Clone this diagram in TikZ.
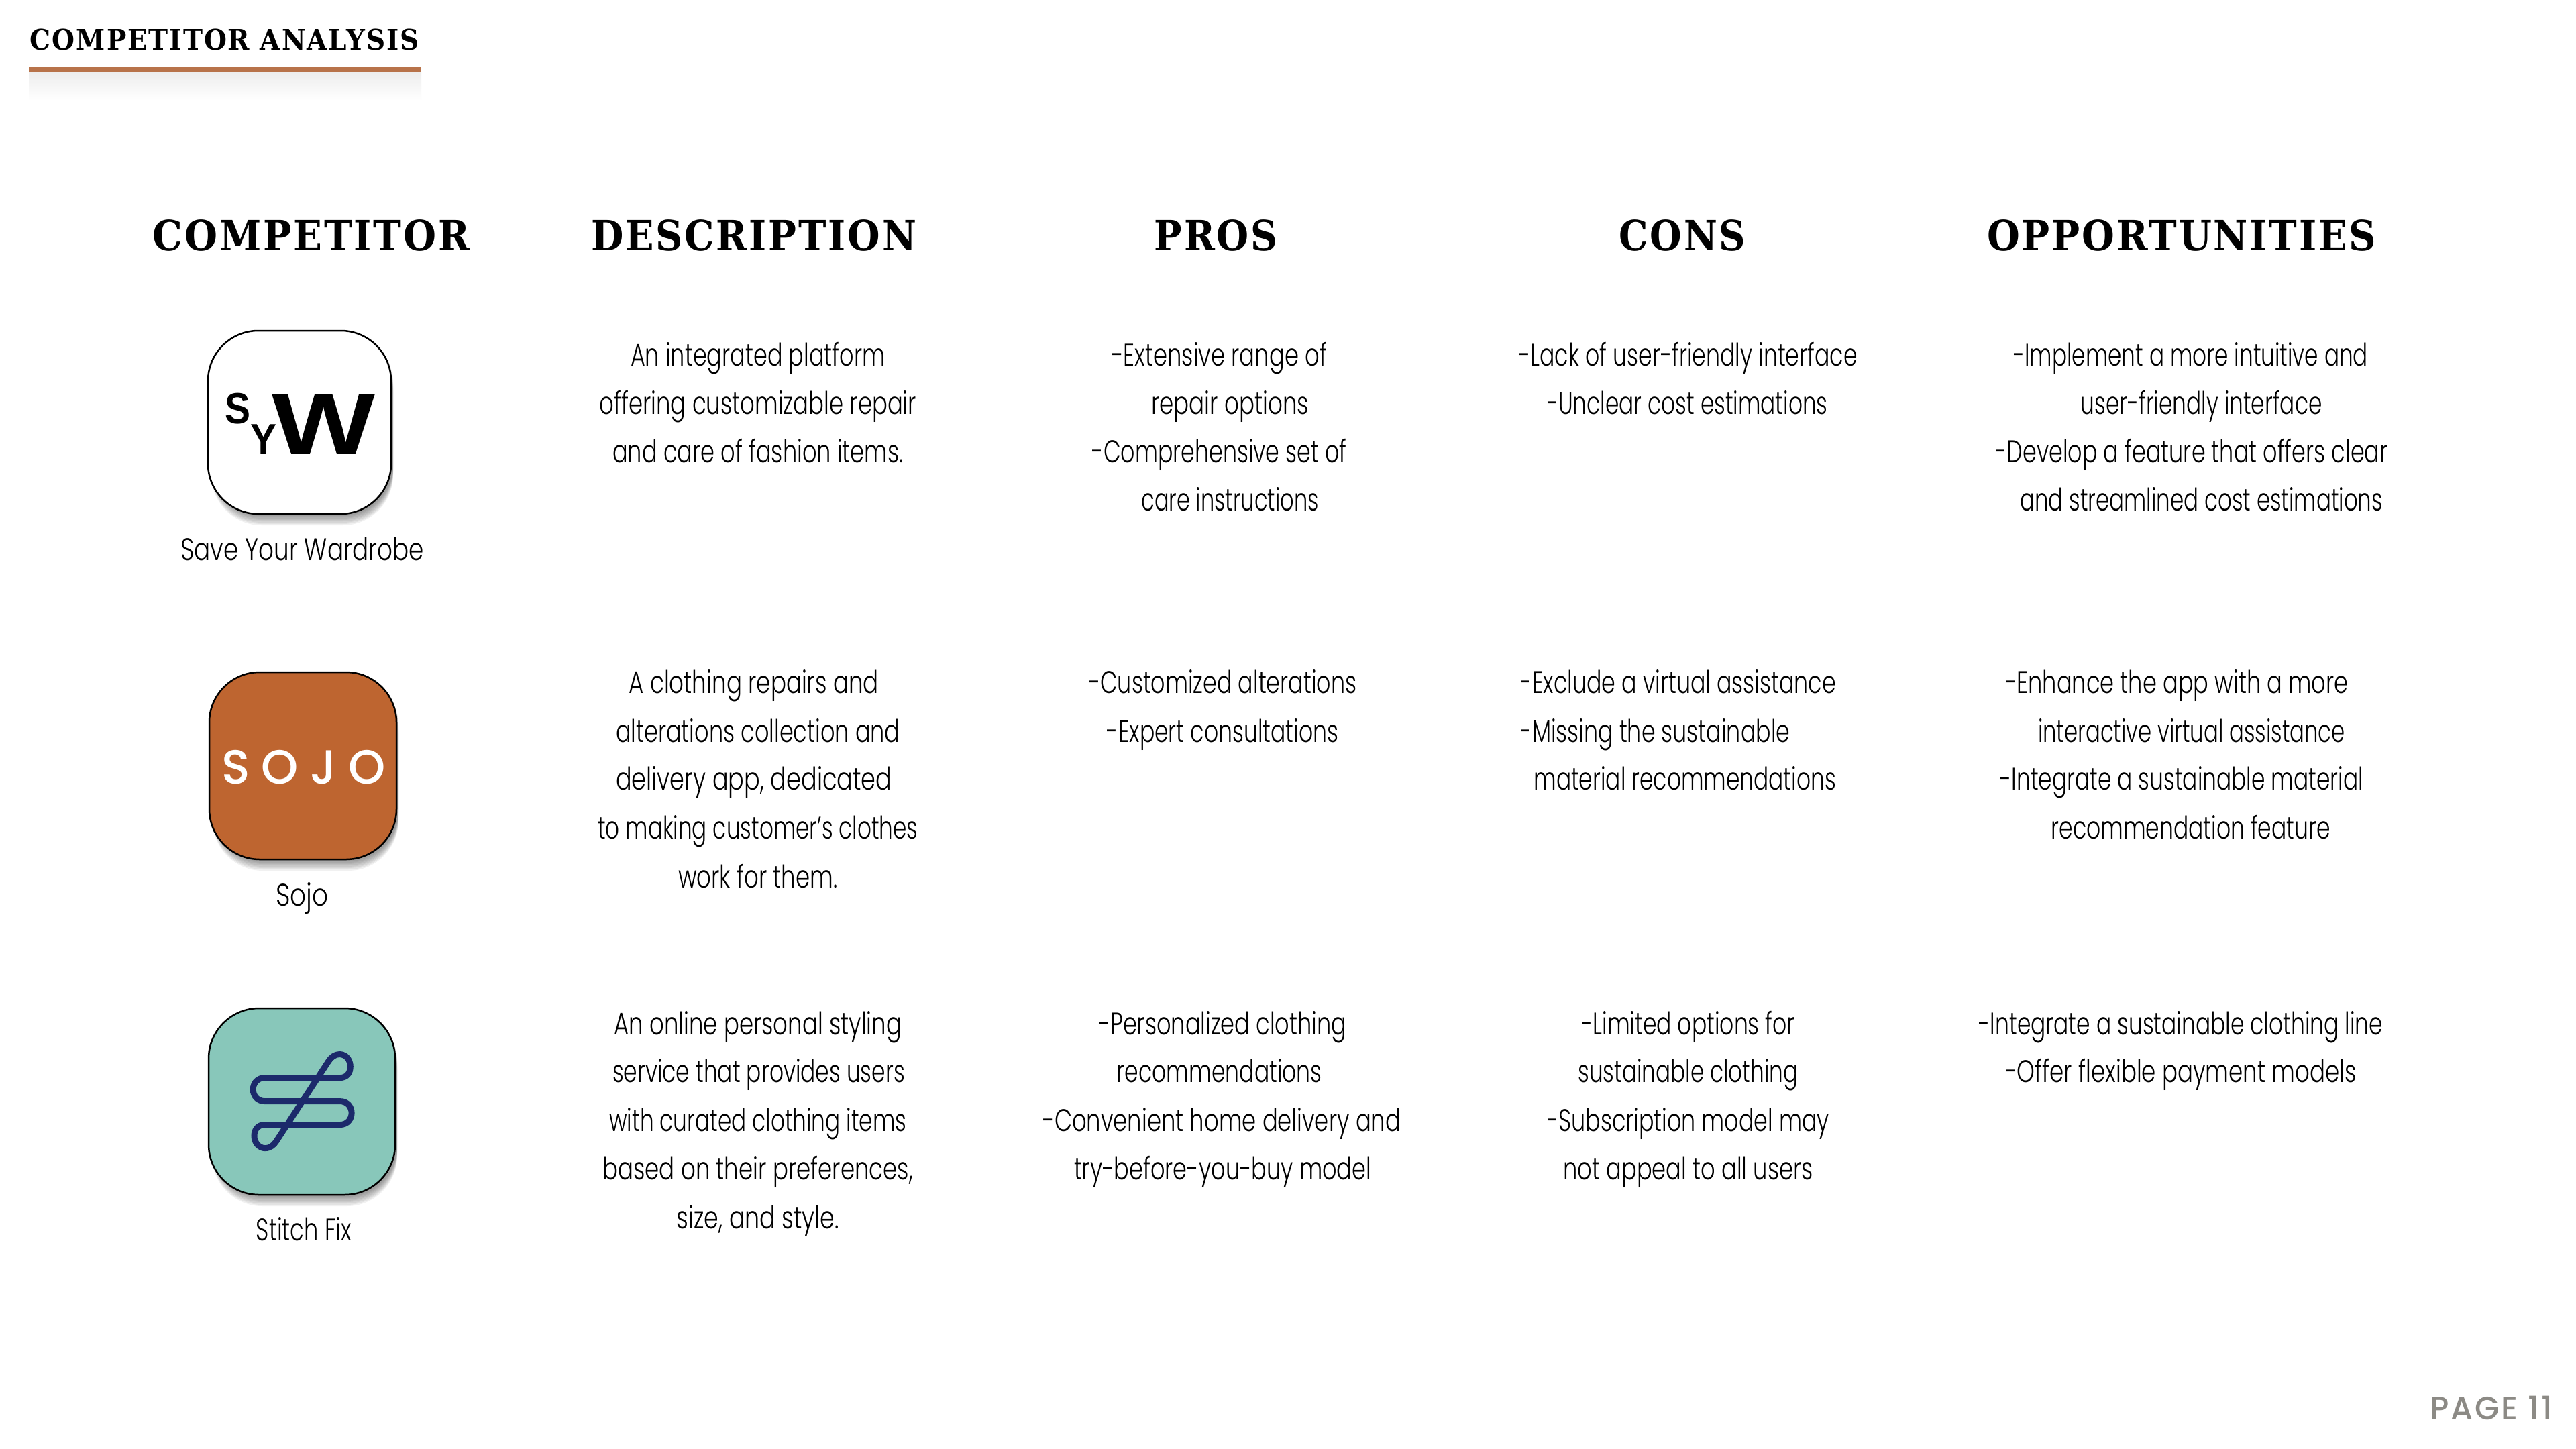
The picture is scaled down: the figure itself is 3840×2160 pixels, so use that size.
\documentclass[tikz,border=0pt]{standalone}
\usepackage{fontspec}
\usepackage{graphicx}
\newfontfamily\bodyf{Poppins Light}
\newfontfamily\headf[LetterSpace=5]{DejaVu Serif}
\newfontfamily\pagef[LetterSpace=6]{Poppins Medium}
\newfontfamily\sojof[LetterSpace=25]{Poppins Medium}
\newfontfamily\logof{Liberation Sans}
\definecolor{ruleorange}{HTML}{B8734A}
\definecolor{sojoorange}{HTML}{BE6530}
\definecolor{stitchteal}{HTML}{88C7BA}
\definecolor{stitchnavy}{HTML}{1C2A6B}
\definecolor{pagegray}{HTML}{8C8A85}
\tikzset{
  fittext/.style={anchor=base,inner sep=0pt,outer sep=0pt},
  iconbox/.style={draw=black,line width=0.05cm,rounded corners=1.5cm,rectangle,inner sep=0pt},
}
% #1 name, #2 font, #3 left px, #4 right px, #5 baseline px, #6 text
\newcommand{\fitnode}[6]{%
  \pgfmathsetmacro\fitcx{(#3+#4)/2}%
  \pgfmathsetlengthmacro\fitw{(#4-#3)*0.02cm}%
  \node[fittext] (#1) at (\fitcx,#5) {\resizebox{\fitw}{\height}{#2#6}};%
}
% body line, positions measured on a reduced grid
\newcommand{\bodyline}[5]{%
  \pgfmathsetmacro\bl{#2*2.448}\pgfmathsetmacro\br{#3*2.448}\pgfmathsetmacro\bb{(#4+5)*2.4615}%
  \fitnode{#1}{\bodyf\fontsize{26.5}{30}\selectfont}{\bl}{\br}{\bb}{#5}%
}
\newcommand{\headline}[4]{%
  \pgfmathsetmacro\bl{#2*2.448}\pgfmathsetmacro\br{#3*2.448}%
  \fitnode{#1}{\headf\bfseries\fontsize{35.2}{40}\selectfont}{\bl}{\br}{373}{#4}%
}
% #1 name, #2-#5 box, #6 fill
\newcommand{\appicon}[6]{%
  \foreach \d in {3,5,...,17}{%
    \fill[black,opacity=0.055,rounded corners=1.5cm] ({#2+5},{#3+\d}) rectangle ({#4+3},{#5+\d});%
  }%
  \pgfmathsetlengthmacro\iw{(#4-#2)*0.02cm}%
  \pgfmathsetlengthmacro\ih{(#5-#3)*0.02cm}%
  \node[iconbox,fill=#6,minimum width=\iw,minimum height=\ih] (#1) at ({(#2+#4)/2},{(#3+#5)/2}) {};%
}
\begin{document}
\begin{tikzpicture}[x=0.02cm,y=-0.02cm]
\useasboundingbox (0,0) rectangle (3840,2160);
\fill[white] (0,0) rectangle (3840,2160);

% title
\fitnode{titletext}{\headf\bfseries\fontsize{24.2}{28}\selectfont}{45}{625}{74}{COMPETITOR ANALYSIS}
\fill[ruleorange] (43,100) rectangle (628,107);
\shade[top color=black!7,bottom color=white] (43,107) rectangle (628,150);

% headings
\headline{hcomp}{93}{286}{COMPETITOR}
\headline{hdesc}{360}{558}{DESCRIPTION}
\headline{hpros}{703}{778}{PROS}
\headline{hcons}{986}{1063}{CONS}
\headline{hopp}{1210}{1447}{OPPORTUNITIES}

% icons
\appicon{iconsyw}{310}{493}{583}{766}{white}
\appicon{iconsojo}{312}{1002}{591}{1281}{sojoorange}
\appicon{iconstitch}{311}{1503}{589}{1781}{stitchteal}

% SYW logo
\fitnode{logos}{\logof\bfseries\fontsize{37}{40}\selectfont}{335}{373}{631}{S}
\fitnode{logoy}{\logof\bfseries\fontsize{37}{40}\selectfont}{373}{412}{677}{Y}
\fitnode{logow}{\logof\bfseries\fontsize{74}{80}\selectfont}{405}{559}{677}{W}

% SOJO logo
\fitnode{logosojo}{\color{white}\sojof\fontsize{40.6}{44}\selectfont}{330}{575}{1168}{SOJO}

% Stitch Fix logo
\begin{scope}[x=0.02cm/3,y=-0.02cm/3,shift={(220*3,1480*3)}]
\draw[stitchnavy,line width=0.18cm,line join=round]
  (860,380) -- (525,380) .. controls (454,380) and (454,485) .. (525,485)
  -- (860,485) .. controls (930,485) and (930,590) .. (860,590)
  -- (525,590) .. controls (490,590) and (477,615) .. (477,640)
  .. controls (477,672) and (500,695) .. (525,695)
  .. controls (550,695) and (565,680) .. (575,665)
  -- (810,305) .. controls (820,290) and (835,275) .. (860,275)
  .. controls (885,275) and (907,298) .. (907,330)
  .. controls (907,355) and (894,380) .. (860,380) -- cycle;
\end{scope}

% labels
\bodyline{lab1}{110}{258}{334.5}{Save Your Wardrobe}
\bodyline{lab2}{168}{200}{543.5}{Sojo}
\bodyline{lab3}{156}{214}{746.5}{Stitch Fix}

% description
\bodyline{d11}{384}{539}{216.5}{An integrated platform}
\bodyline{d12}{365}{558}{246}{offering customizable repair}
\bodyline{d13}{373}{550}{275}{and care of fashion items.}
\bodyline{d21}{383}{535}{415}{A clothing repairs and}
\bodyline{d22}{375}{548}{444.5}{alterations collection and}
\bodyline{d23}{375}{543}{473.5}{delivery app, dedicated}
\bodyline{d24}{364}{559}{503}{to making customer’s clothes}
\bodyline{d25}{413}{510}{532.5}{work for them.}
\bodyline{d31}{374}{549}{621.5}{An online personal styling}
\bodyline{d32}{373}{551}{650.5}{service that provides users}
\bodyline{d33}{371}{552}{680}{with curated clothing items}
\bodyline{d34}{367}{556}{709.5}{based on their preferences,}
\bodyline{d35}{412}{511}{739}{size, and style.}

% pros
\bodyline{p11}{677}{808}{216.5}{-Extensive range of}
\bodyline{p12}{701}{797}{246}{repair options}
\bodyline{p13}{665}{820}{275}{-Comprehensive set of}
\bodyline{p14}{695}{803}{304.5}{care instructions}
\bodyline{p21}{663}{826}{415}{-Customized alterations}
\bodyline{p22}{674}{815}{444.5}{-Expert consultations}
\bodyline{p31}{669}{820}{621.5}{-Personalized clothing}
\bodyline{p32}{680}{805}{650.5}{recommendations}
\bodyline{p33}{635}{853}{680}{-Convenient home delivery and}
\bodyline{p34}{654}{835}{709.5}{try-before-you-buy model}

% cons
\bodyline{c11}{925}{1131}{216.5}{-Lack of user-friendly interface}
\bodyline{c12}{942}{1113}{246}{-Unclear cost estimations}
\bodyline{c21}{926}{1118}{415}{-Exclude a virtual assistance}
\bodyline{c22}{926}{1090}{444.5}{-Missing the sustainable}
\bodyline{c23}{934}{1118}{473.5}{material recommendations}
\bodyline{c31}{963}{1093}{621.5}{-Limited options for}
\bodyline{c32}{961}{1095}{650.5}{sustainable clothing}
\bodyline{c33}{942}{1114}{680}{-Subscription model may}
\bodyline{c34}{952}{1104}{709.5}{not appeal to all users}

% opportunities
\bodyline{o11}{1226}{1442}{216.5}{-Implement a more intuitive and}
\bodyline{o12}{1267}{1414}{246}{user-friendly interface}
\bodyline{o13}{1215}{1454}{275}{-Develop a feature that offers clear}
\bodyline{o14}{1230}{1451}{304.5}{and streamlined cost estimations}
\bodyline{o21}{1221}{1430}{415}{-Enhance the app with a more}
\bodyline{o22}{1241}{1428}{444.5}{interactive virtual assistance}
\bodyline{o23}{1218}{1439}{473.5}{-Integrate a sustainable material}
\bodyline{o24}{1249}{1419}{503}{recommendation feature}
\bodyline{o31}{1205}{1451}{621.5}{-Integrate a sustainable clothing line}
\bodyline{o32}{1221}{1435}{650.5}{-Offer flexible payment models}

% page number
\fitnode{pagenum}{\color{pagegray}\pagef\fontsize{27.6}{30}\selectfont}{3622}{3805}{2116}{PAGE 11}
\end{tikzpicture}
\end{document}
